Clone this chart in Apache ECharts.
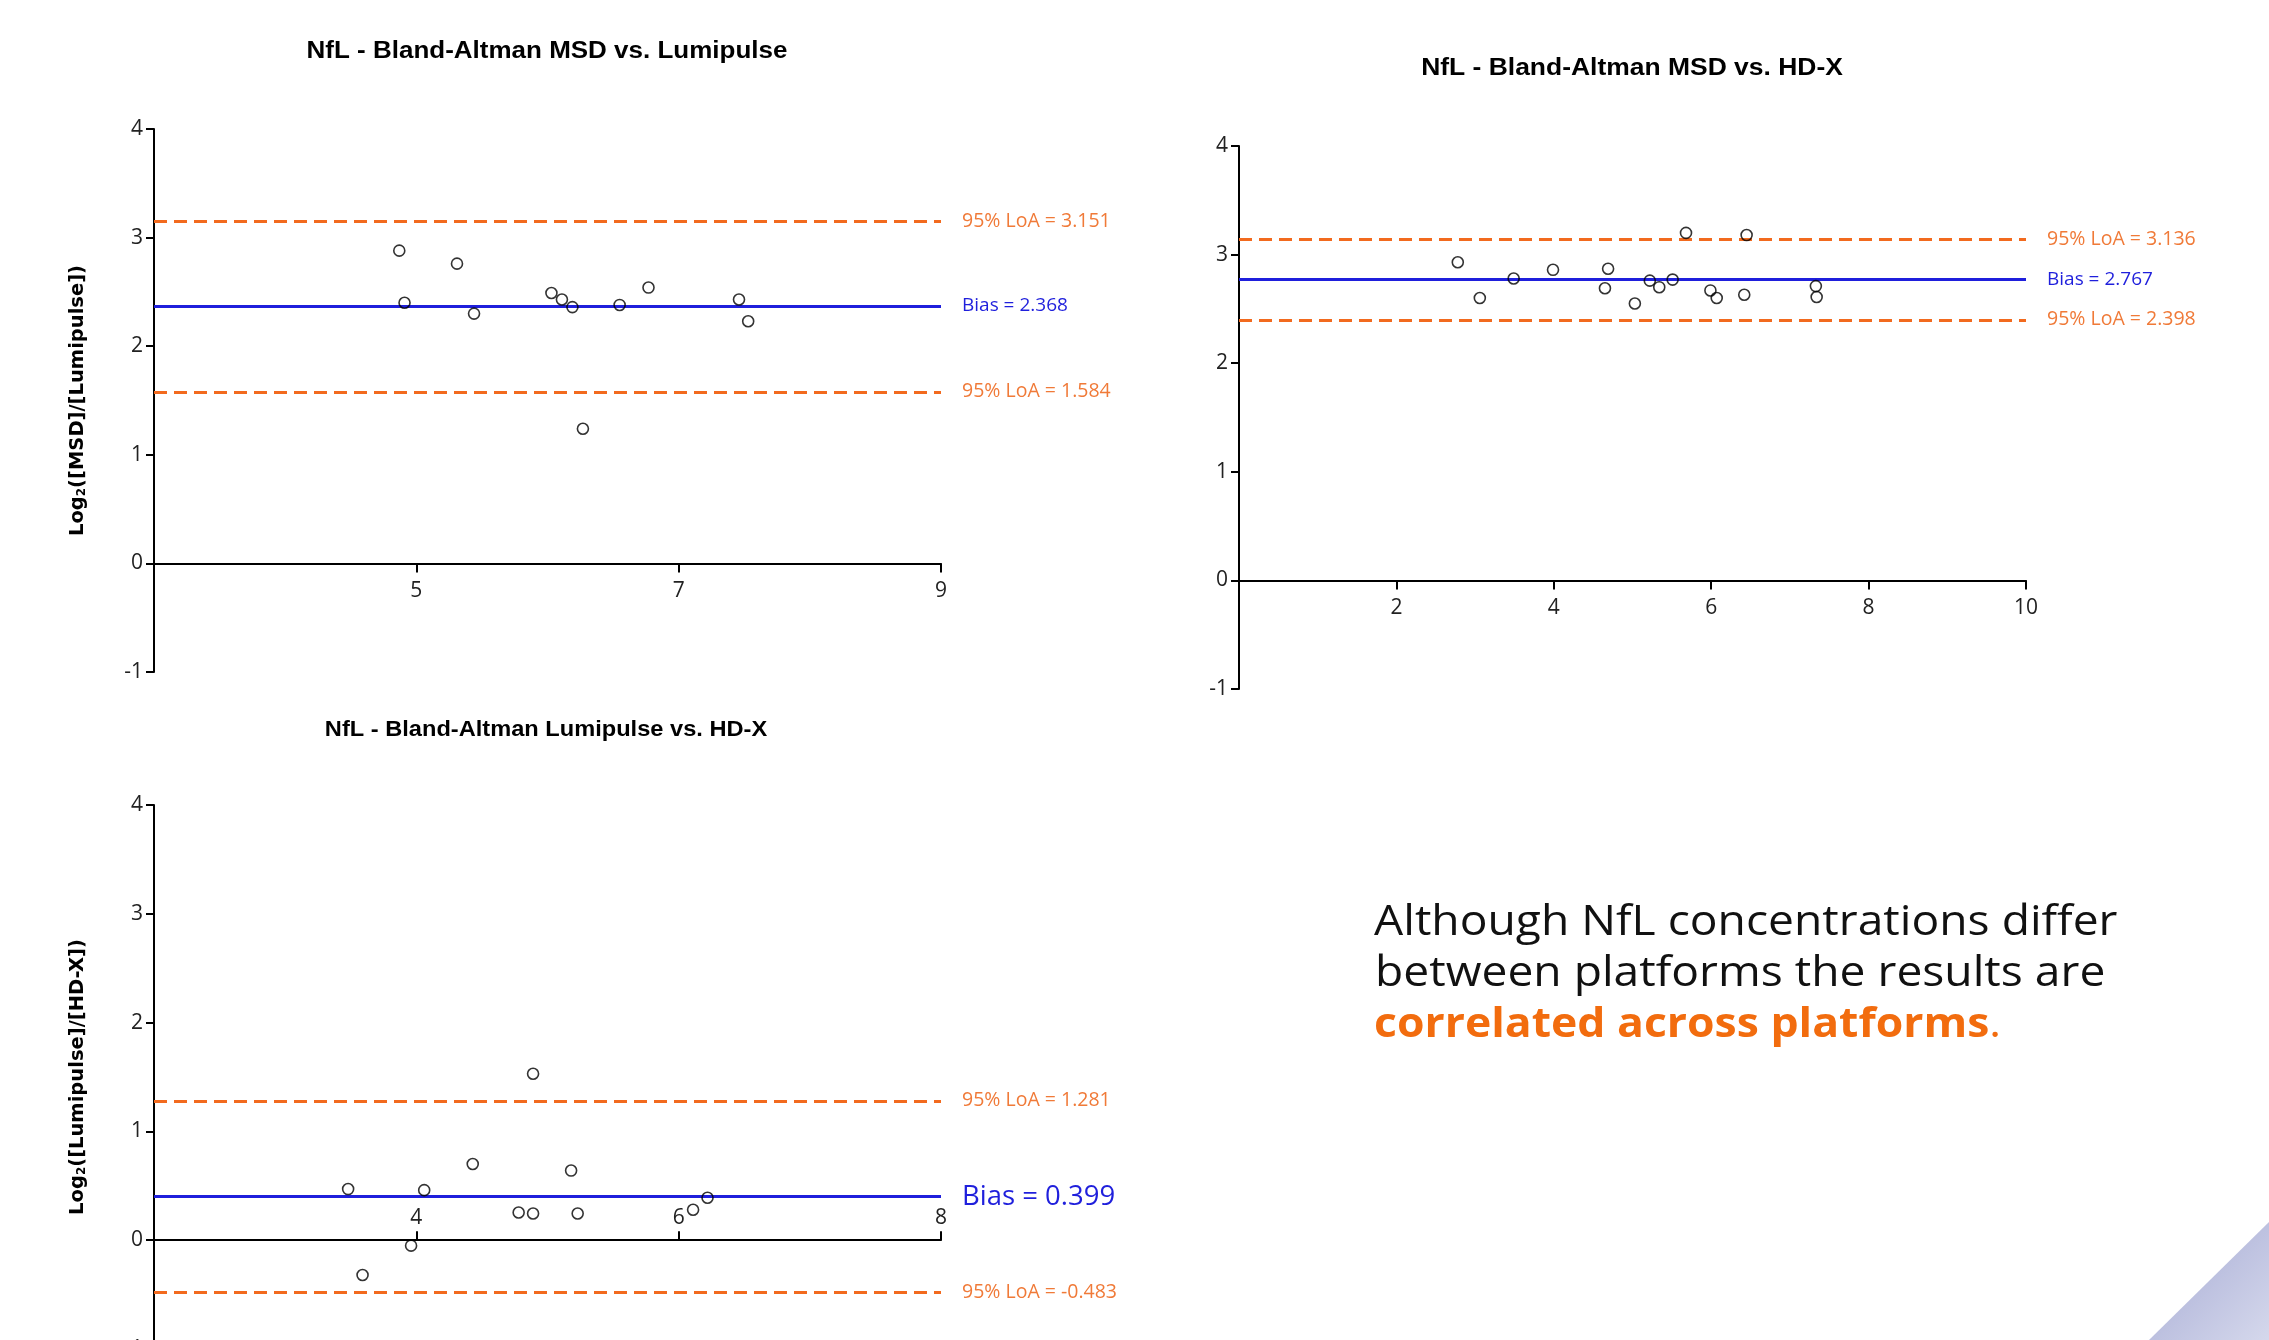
<!DOCTYPE html>
<html><head><meta charset="utf-8">
<script src="https://cdn.jsdelivr.net/npm/echarts@6/dist/echarts.min.js"></script>
<style>html,body{margin:0;padding:0;background:#fff;overflow:hidden}#c{width:2269px;height:1360px}</style>
</head><body><div id="c"></div>
<script>
// ---- data ----
const titles = ['NfL - Bland-Altman MSD vs. Lumipulse', 'NfL - Bland-Altman MSD vs. HD-X', 'NfL - Bland-Altman Lumipulse vs. HD-X'];
const yNames = ['Log{s|2}([MSD]/[Lumipulse])', '', 'Log{s|2}([Lumipulse]/[HD-X])'];
const xMin = [3, 0, 2];
const xMax = [9, 10, 8];
const xInterval = [2, 2, 2];
const yMin = -1, yMax = 4, yInterval = 1;

const msdLumiX = [4.87, 4.91, 5.31, 5.44, 6.03, 6.11, 6.19, 6.27, 6.55, 6.77, 7.46, 7.53];
const msdLumiY = [2.88, 2.40, 2.76, 2.30, 2.49, 2.43, 2.36, 1.24, 2.38, 2.54, 2.43, 2.23];

const msdHdxX = [2.78, 3.06, 3.49, 3.99, 4.65, 4.69, 5.03, 5.22, 5.34, 5.51, 5.68, 5.99, 6.07, 6.42, 6.45, 7.33, 7.34];
const msdHdxY = [2.93, 2.60, 2.78, 2.86, 2.69, 2.87, 2.55, 2.76, 2.70, 2.77, 3.20, 2.67, 2.60, 2.63, 3.18, 2.71, 2.61];

const lumiHdxX = [3.48, 3.59, 3.96, 4.06, 4.43, 4.78, 4.89, 4.89, 5.18, 5.23, 6.11, 6.22];
const lumiHdxY = [0.47, -0.32, -0.05, 0.46, 0.70, 0.255, 0.245, 1.53, 0.64, 0.245, 0.28, 0.39];

const bias = [2.368, 2.767, 0.399];
const loaUpper = [3.151, 3.136, 1.281];
const loaLower = [1.584, 2.398, -0.483];

const bodyLine1 = 'Although NfL concentrations differ';
const bodyLine2 = 'between platforms the results are';
const bodyLine3Bold = 'correlated across platforms';

// ---- styles ----
const BLUE = '#1f1fdc', ORANGE_LINE = '#f26a1e', ORANGE_TXT = '#f07a38', ORANGE_BODY = '#f26c0e';
const tickFont = 'Open Sans';
const grids = [
  {left: 154, top: 129, width: 787, height: 543},
  {left: 1239, top: 146, width: 787, height: 543},
  {left: 154, top: 805, width: 787, height: 544}
];
const biasFont = [19, 19, 27.5];
const pts = [[msdLumiX, msdLumiY], [msdHdxX, msdHdxY], [lumiHdxX, lumiHdxY]];

const xAxes = grids.map((g, i) => ({
  type: 'value', gridIndex: i, min: xMin[i], max: xMax[i], interval: xInterval[i],
  position: 'bottom',
  // place the x axis at y = 0 of the value axis
  offset: -((0 - yMin) / (yMax - yMin)) * g.height,
  splitLine: {show: false},
  axisLine: {show: true, onZero: false, lineStyle: {color: '#000', width: 2}},
  axisTick: {show: true, length: 9, inside: i === 2, lineStyle: {color: '#000', width: 2}},
  axisLabel: {show: true, showMinLabel: false, inside: i === 2, margin: i === 2 ? 12 : 17,
    color: '#222', fontFamily: tickFont, fontSize: 21}
}));
const yAxes = grids.map((g, i) => ({
  type: 'value', gridIndex: i, min: yMin, max: yMax, interval: yInterval,
  splitLine: {show: false},
  axisLine: {show: true, onZero: false, lineStyle: {color: '#000', width: 2}},
  axisTick: {show: true, length: 8, lineStyle: {color: '#000', width: 2}},
  axisLabel: {color: '#222', fontFamily: tickFont, fontSize: 21, margin: 11},
  name: yNames[i], nameLocation: 'middle', nameGap: 66,
  nameTextStyle: {color: '#000', fontFamily: 'DejaVu Sans', fontWeight: 'bold', fontSize: 19.5,
    rich: {s: {fontFamily: 'DejaVu Sans', fontWeight: 'bold', fontSize: 12, verticalAlign: 'bottom', padding: [7, 0, 0, 0]}}}
}));

const series = pts.map((p, i) => ({
  type: 'scatter', xAxisIndex: i, yAxisIndex: i,
  data: p[0].map((x, k) => [x, p[1][k]]),
  symbol: 'circle', symbolSize: 11,
  itemStyle: {color: 'rgba(255,255,255,0)', borderColor: '#000', borderWidth: 1.6},
  z: 5,
  markLine: {
    silent: true, symbol: ['none', 'none'], animation: false,
    data: [
      {yAxis: loaUpper[i], lineStyle: {color: ORANGE_LINE, type: [13, 7], width: 3.2},
        label: {position: 'end', distance: 21, formatter: '95% LoA = ' + loaUpper[i].toFixed(3), color: ORANGE_TXT, fontFamily: tickFont, fontSize: 19.5}},
      {yAxis: bias[i], lineStyle: {color: BLUE, type: 'solid', width: 3},
        label: {position: 'end', distance: 21, formatter: 'Bias = ' + bias[i].toFixed(3), color: BLUE, fontFamily: tickFont, fontSize: biasFont[i]}},
      {yAxis: loaLower[i], lineStyle: {color: ORANGE_LINE, type: [13, 7], width: 3.2},
        label: {position: 'end', distance: 21, formatter: '95% LoA = ' + loaLower[i].toFixed(3), color: ORANGE_TXT, fontFamily: tickFont, fontSize: 19.5}}
    ]
  }
}));

const titlePos = [[547, 52, 23, 1.13], [1632, 69, 23, 1.15], [546, 730, 22.5, 1.05]];
const graphic = titles.map((t, i) => ({
  type: 'text', x: titlePos[i][0], y: titlePos[i][1], scaleX: titlePos[i][3],
  style: {text: t, align: 'center', verticalAlign: 'middle',
    font: 'bold ' + titlePos[i][2] + 'px "Liberation Sans", Arial, sans-serif', fill: '#000'}
}));
graphic.push(
  {type: 'text', x: 1374, y: 923, scaleX: 1.1,
    style: {text: bodyLine1, align: 'left', verticalAlign: 'middle', font: '42px "Open Sans"', fill: '#111'}},
  {type: 'text', x: 1375, y: 974, scaleX: 1.1,
    style: {text: bodyLine2, align: 'left', verticalAlign: 'middle', font: '42px "Open Sans"', fill: '#111'}},
  {type: 'text', x: 1374, y: 1025, scaleX: 1.06,
    style: {text: '{b|' + bodyLine3Bold + '}{d|.}', align: 'left', verticalAlign: 'middle',
      rich: {b: {fontFamily: 'Open Sans', fontWeight: 'bold', fontSize: 42, fill: ORANGE_BODY},
             d: {fontFamily: 'Open Sans', fontSize: 42, fill: ORANGE_BODY}}}},
  {type: 'polygon', shape: {points: [[2149, 1340], [2269, 1222], [2269, 1340]]},
    style: {fill: new echarts.graphic.LinearGradient(0, 0, 1, 1, [{offset: 0, color: '#a4a9d3'}, {offset: 1, color: '#d5d8ec'}])}}
);

const chart = echarts.init(document.getElementById('c'));
chart.setOption({
  animation: false,
  backgroundColor: '#fff',
  grid: grids,
  xAxis: xAxes,
  yAxis: yAxes,
  series: series,
  graphic: graphic
});
</script></body></html>
